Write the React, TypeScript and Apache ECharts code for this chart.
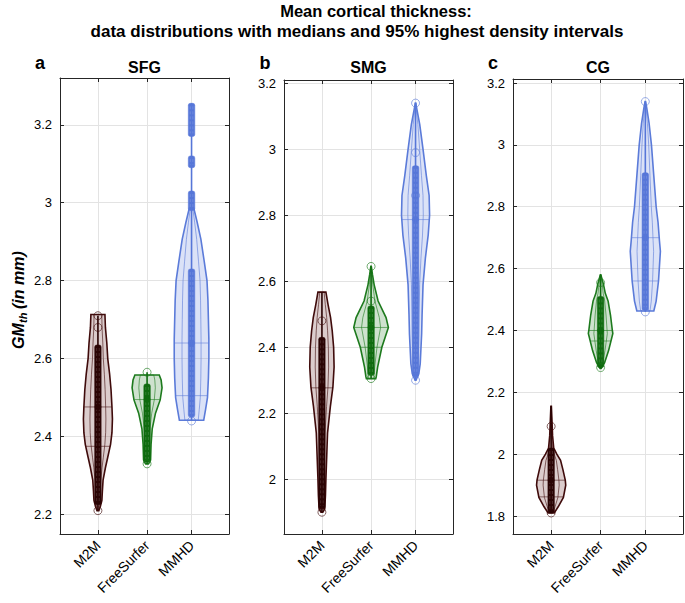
import React, { useEffect, useRef } from 'react';
import * as echarts from 'echarts';

const FONT = 'Liberation Sans, Arial, Helvetica, sans-serif';

const categories = ['M2M', 'FreeSurfer', 'MMHD'];
const categoryX = [1, 2.05, 3];
const regions = ['SFG', 'SMG', 'CG'];
const panelLetters = ['a', 'b', 'c'];
const titleLines = ['Mean cortical thickness:', 'data distributions with medians and 95% highest density intervals'];
const yLimits = [[2.15, 3.32], [1.834, 3.21], [1.742, 3.213]];
const xLimits = [0.19, 3.8];

// violin outlines: values and half widths (x units)
const sfgM2mV = [2.21, 2.22, 2.236, 2.26, 2.288, 2.32, 2.347, 2.38, 2.41, 2.445, 2.476, 2.52, 2.56, 2.6, 2.64, 2.68, 2.713];
const sfgM2mW = [0.02, 0.05, 0.085, 0.095, 0.11, 0.16, 0.21, 0.27, 0.3, 0.31, 0.3, 0.28, 0.25, 0.21, 0.19, 0.16, 0.15];
const sfgFsV = [2.33, 2.335, 2.34, 2.38, 2.42, 2.46, 2.494, 2.525, 2.545, 2.558];
const sfgFsW = [0.03, 0.06, 0.075, 0.085, 0.11, 0.18, 0.28, 0.32, 0.3, 0.26];
const sfgMmV = [2.442, 2.47, 2.5, 2.55, 2.6, 2.65, 2.7, 2.75, 2.8, 2.85, 2.906, 2.95, 2.98, 3.0];
const sfgMmW = [0.26, 0.3, 0.34, 0.36, 0.37, 0.37, 0.36, 0.35, 0.33, 0.27, 0.2, 0.12, 0.06, 0.01];

const smgM2mV = [1.9, 1.91, 1.95, 2.0, 2.06, 2.14, 2.22, 2.28, 2.34, 2.4, 2.45, 2.49, 2.53, 2.567];
const smgM2mW = [0.02, 0.06, 0.075, 0.085, 0.1, 0.12, 0.18, 0.235, 0.26, 0.25, 0.22, 0.185, 0.13, 0.085];
const smgFsV = [2.305, 2.31, 2.34, 2.4, 2.46, 2.49, 2.54, 2.59, 2.62, 2.645];
const smgFsW = [0.1, 0.11, 0.14, 0.23, 0.37, 0.32, 0.15, 0.065, 0.03, 0.005];
const smgMmV = [2.3, 2.32, 2.35, 2.44, 2.5, 2.59, 2.67, 2.74, 2.8, 2.86, 2.92, 3.0, 3.075, 3.12, 3.14];
const smgMmW = [0.01, 0.07, 0.1, 0.13, 0.14, 0.16, 0.21, 0.27, 0.3, 0.29, 0.23, 0.16, 0.09, 0.03, 0.005];

const cgM2mV = [1.81, 1.83, 1.86, 1.9, 1.916, 1.95, 1.98, 2.0, 2.02, 2.06, 2.1, 2.155];
const cgM2mW = [0.065, 0.15, 0.26, 0.31, 0.3, 0.25, 0.2, 0.12, 0.055, 0.03, 0.02, 0.005];
const cgFsV = [2.277, 2.296, 2.335, 2.39, 2.4, 2.45, 2.495, 2.52, 2.55, 2.58];
const cgFsW = [0.01, 0.085, 0.17, 0.26, 0.25, 0.21, 0.16, 0.1, 0.06, 0.005];
const cgMmV = [2.463, 2.495, 2.56, 2.656, 2.69, 2.75, 2.8, 2.9, 3.0, 3.07, 3.12, 3.14];
const cgMmW = [0.18, 0.23, 0.28, 0.32, 0.3, 0.27, 0.23, 0.18, 0.13, 0.08, 0.03, 0.005];

// statistics per panel (M2M, FreeSurfer, MMHD)
const medians = [[2.476, 2.495, 2.64], [2.277, 2.46, 2.787], [1.916, 2.4, 2.7]];
const secondLines = [[2.375, null, 2.505], [null, 2.4, null], [1.862, 2.366, 2.56]];
const ranges = [
  [[2.21, 2.71], [2.33, 2.565], [2.44, 3.255]],
  [[1.9, 2.567], [2.305, 2.645], [2.3, 3.14]],
  [[1.81, 2.155], [2.277, 2.58], [2.46, 3.14]],
];
const hdiBars = [
  [[[2.225, 2.635]], [[2.335, 2.535]], [[2.45, 2.83], [2.98, 3.03], [3.09, 3.12], [3.17, 3.255]]],
  [[[1.91, 2.43]], [[2.315, 2.525]], [[2.31, 2.95]]],
  [[[1.81, 2.02]], [[2.28, 2.51]], [[2.465, 2.91]]],
];
const openPoints = [
  [[2.21, 2.68, 2.71], [2.33, 2.565], [2.44]],
  [[1.9, 2.48], [2.305, 2.54, 2.645], [2.3, 2.86, 2.99, 3.14]],
  [[1.81, 2.09], [2.28, 2.555], [2.46, 3.14]],
];

const profileV = [[sfgM2mV, sfgFsV, sfgMmV], [smgM2mV, smgFsV, smgMmV], [cgM2mV, cgFsV, cgMmV]];
const profileW = [[sfgM2mW, sfgFsW, sfgMmW], [smgM2mW, smgFsW, smgMmW], [cgM2mW, cgFsW, cgMmW]];

const strokeColors = ['#3f0b0b', '#1d7a1d', '#5b7bd9'];
const fillColors = ['rgba(110,50,50,0.25)', 'rgba(30,125,30,0.22)', 'rgba(91,123,217,0.22)'];
const barColors = ['#2a0404', '#0f6b0f', '#5676d8'];

const grids = [
  { left: 60, top: 78, width: 169, height: 456 },
  { left: 284, top: 80, width: 169, height: 454 },
  { left: 513, top: 79, width: 170, height: 455 },
];

function halfAt(vals: number[], ws: number[], v: number) {
  if (v <= vals[0]) return ws[0];
  if (v >= vals[vals.length - 1]) return ws[ws.length - 1];
  for (let i = 0; i < vals.length - 1; i++) {
    if (v >= vals[i] && v <= vals[i + 1]) {
      const t = (v - vals[i]) / (vals[i + 1] - vals[i]);
      return ws[i] + t * (ws[i + 1] - ws[i]);
    }
  }
  return 0;
}

function makeRenderItem(p: number, g: number) {
  return (params: any, api: any) => {
    const xc = categoryX[g];
    const vals = profileV[p][g];
    const ws = profileW[p][g];
    const color = strokeColors[g];
    const right = vals.map((v, i) => api.coord([xc + ws[i], v]));
    const left = vals.map((v, i) => api.coord([xc - ws[i], v])).reverse();
    const innerR = vals.map((v, i) => api.coord([xc + ws[i] * 0.55, v]));
    const innerL = vals.map((v, i) => api.coord([xc - ws[i] * 0.55, v])).reverse();
    const children: any[] = [];
    children.push({
      type: 'polygon',
      shape: { points: right.concat(left) },
      style: { fill: fillColors[g], stroke: color, lineWidth: 1.6 },
    });
    children.push({
      type: 'polygon',
      shape: { points: innerR.concat(innerL) },
      style: { fill: 'none', stroke: color, lineWidth: 0.8, opacity: 0.75 },
    });
    const hl = [medians[p][g], secondLines[p][g]];
    hl.forEach((v) => {
      if (v == null) return;
      const h = halfAt(vals, ws, v);
      const a = api.coord([xc - h, v]);
      const b = api.coord([xc + h, v]);
      children.push({
        type: 'line',
        shape: { x1: a[0], y1: a[1], x2: b[0], y2: b[1] },
        style: { stroke: color, lineWidth: 0.8, opacity: 0.7 },
      });
    });
    const r0 = api.coord([xc, ranges[p][g][0]]);
    const r1 = api.coord([xc, ranges[p][g][1]]);
    children.push({
      type: 'line',
      shape: { x1: r0[0], y1: r0[1], x2: r1[0], y2: r1[1] },
      style: { stroke: barColors[g], lineWidth: 1.6 },
    });
    hdiBars[p][g].forEach((seg) => {
      const lo = api.coord([xc, seg[0]]);
      const hi = api.coord([xc, seg[1]]);
      const bw = 6.5;
      children.push({
        type: 'rect',
        shape: { x: lo[0] - bw / 2, y: hi[1], width: bw, height: lo[1] - hi[1], r: 2 },
        style: { fill: barColors[g], stroke: barColors[g], lineWidth: 0.5 },
      });
      [-1.3, 1.3].forEach((dx) => {
        children.push({
          type: 'line',
          shape: { x1: lo[0] + dx, y1: hi[1] + 3, x2: lo[0] + dx, y2: lo[1] - 3 },
          style: { stroke: '#ffffff', lineWidth: 0.5, opacity: 0.3, lineDash: [3, 2] },
        });
      });
    });
    openPoints[p][g].forEach((v) => {
      const c = api.coord([xc, v]);
      children.push({
        type: 'circle',
        shape: { cx: c[0], cy: c[1], r: 4 },
        style: { fill: 'none', stroke: color, lineWidth: 0.8, opacity: 0.8 },
      });
    });
    const m = api.coord([xc, medians[p][g]]);
    children.push({
      type: 'circle',
      shape: { cx: m[0], cy: m[1], r: 3 },
      style: { fill: barColors[g], stroke: barColors[g], lineWidth: 0.5 },
    });
    return { type: 'group', children };
  };
}

export default function App() {
  const ref = useRef<HTMLDivElement>(null);
  useEffect(() => {
    if (!ref.current) return;
    const chart = echarts.init(ref.current, null, { renderer: 'svg' });
    const axisLineStyle = { color: '#262626', width: 1 };
    const xAxes: any[] = [];
    const yAxes: any[] = [];
    const series: any[] = [];
    regions.forEach((_, p) => {
      xAxes.push({
        type: 'value', gridIndex: p, min: xLimits[0], max: xLimits[1], position: 'bottom',
        axisLine: { show: true, onZero: false, lineStyle: axisLineStyle },
        axisTick: { show: true, inside: true, length: 4, customValues: categoryX, lineStyle: axisLineStyle },
        axisLabel: {
          customValues: categoryX, rotate: 45, color: '#000', fontSize: 14, fontFamily: FONT, margin: 9,
          formatter: (v: number) => {
            const i = categoryX.findIndex((c) => Math.abs(c - v) < 1e-6);
            return i >= 0 ? categories[i] : '';
          },
        },
        splitLine: { show: true, lineStyle: { color: '#e3e3e3', width: 1 } },
      });
      xAxes.push({
        type: 'value', gridIndex: p, min: xLimits[0], max: xLimits[1], position: 'top',
        axisLine: { show: true, onZero: false, lineStyle: axisLineStyle },
        axisTick: { show: true, inside: true, length: 4, customValues: categoryX, lineStyle: axisLineStyle },
        axisLabel: { show: false },
        splitLine: { show: false },
      });
      yAxes.push({
        type: 'value', gridIndex: p, min: yLimits[p][0], max: yLimits[p][1], position: 'left',
        minInterval: 0.2, maxInterval: 0.2,
        axisLine: { show: true, onZero: false, lineStyle: axisLineStyle },
        axisTick: { show: true, inside: true, length: 4, lineStyle: axisLineStyle },
        axisLabel: { showMinLabel: false, showMaxLabel: false, color: '#000', fontSize: 13, fontFamily: FONT, margin: 8 },
        splitLine: { show: true, lineStyle: { color: '#e3e3e3', width: 1 } },
      });
      yAxes.push({
        type: 'value', gridIndex: p, min: yLimits[p][0], max: yLimits[p][1], position: 'right',
        minInterval: 0.2, maxInterval: 0.2,
        axisLine: { show: true, onZero: false, lineStyle: axisLineStyle },
        axisTick: { show: true, inside: true, length: 4, lineStyle: axisLineStyle },
        axisLabel: { show: false },
        splitLine: { show: false },
      });
      categories.forEach((_, g) => {
        series.push({
          type: 'custom',
          name: regions[p] + ' ' + categories[g],
          xAxisIndex: p * 2,
          yAxisIndex: p * 2,
          renderItem: makeRenderItem(p, g),
          data: [[categoryX[g], medians[p][g]]],
          silent: true,
          clip: false,
          z: 5,
        });
      });
    });

    const panelCenters = grids.map((gr) => gr.left + gr.width / 2);
    const graphic: any[] = [
      {
        type: 'text', x: 376, y: 11,
        style: { text: titleLines[0], font: `bold 16.5px ${FONT}`, fill: '#000', align: 'center', verticalAlign: 'middle' },
      },
      {
        type: 'text', x: 357, y: 31,
        style: { text: titleLines[1], font: `bold 17px ${FONT}`, fill: '#000', align: 'center', verticalAlign: 'middle' },
      },
    ];
    const letterX = [40, 265, 493];
    panelLetters.forEach((l, p) => {
      graphic.push({
        type: 'text', x: letterX[p], y: 63,
        style: { text: l, font: `bold 18px ${FONT}`, fill: '#000', align: 'center', verticalAlign: 'middle' },
      });
      graphic.push({
        type: 'text', x: panelCenters[p], y: 67,
        style: { text: regions[p], font: `bold 16px ${FONT}`, fill: '#000', align: 'center', verticalAlign: 'middle' },
      });
    });
    graphic.push({
      type: 'group', x: 18, y: 300, rotation: Math.PI / 2,
      children: [
        { type: 'text', x: -49, y: 0, style: { text: 'GM', font: `italic bold 16px ${FONT}`, fill: '#000', align: 'left', verticalAlign: 'middle' } },
        { type: 'text', x: -23, y: 5, style: { text: 'th', font: `italic bold 11px ${FONT}`, fill: '#000', align: 'left', verticalAlign: 'middle' } },
        { type: 'text', x: -9, y: 0, style: { text: '(in mm)', font: `italic bold 16px ${FONT}`, fill: '#000', align: 'left', verticalAlign: 'middle' } },
      ],
    });

    chart.setOption({
      animation: false,
      backgroundColor: '#ffffff',
      textStyle: { fontFamily: FONT },
      grid: grids.map((g) => ({ ...g, show: false, containLabel: false })),
      xAxis: xAxes,
      yAxis: yAxes,
      series,
      graphic,
    });
    return () => chart.dispose();
  }, []);
  return <div ref={ref} style={{ position: 'fixed', left: 0, top: 0, width: 685, height: 603 }} />;
}
